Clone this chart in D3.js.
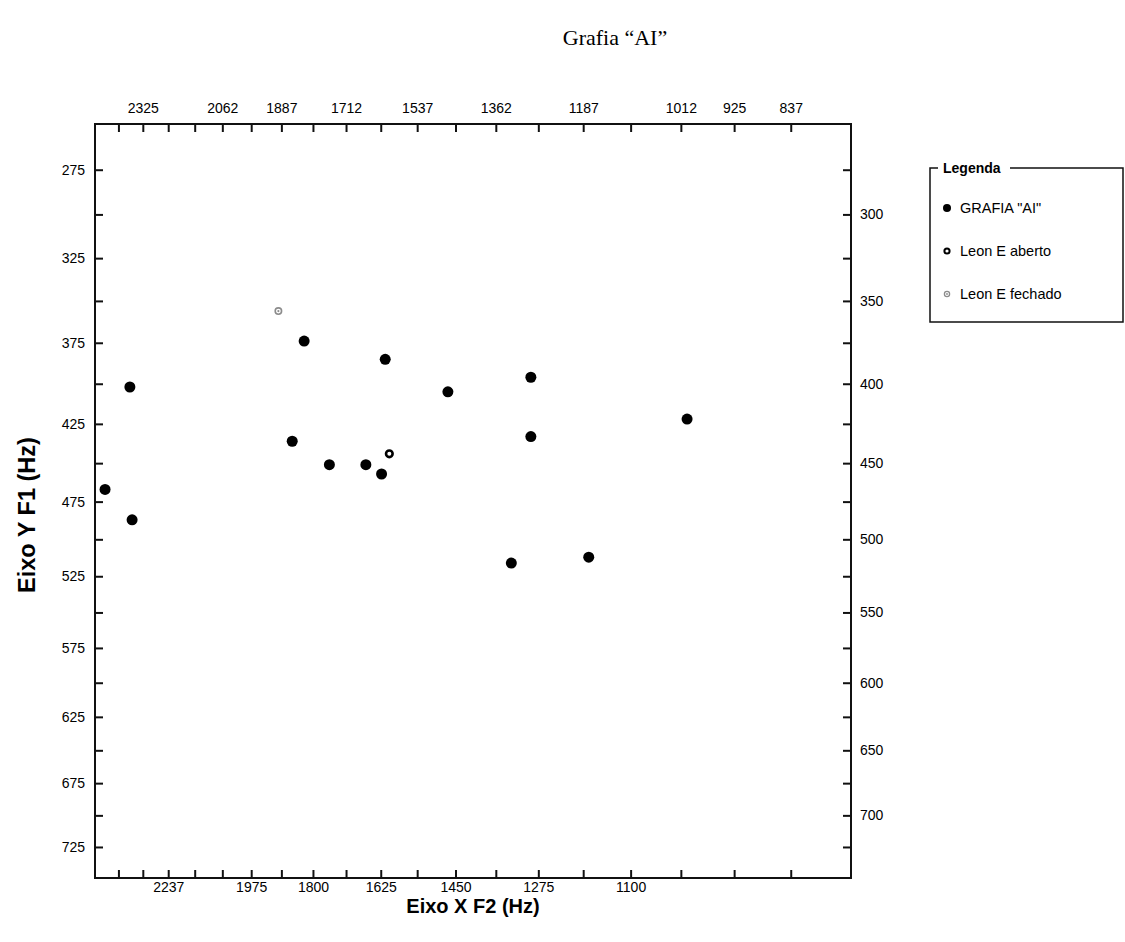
<!DOCTYPE html>
<html>
<head>
<meta charset="utf-8">
<script src="https://cdn.jsdelivr.net/npm/d3@7"></script>
<style>
  body { margin: 0; background: #fff; }
  svg { display: block; }
  .tick text { font-family: "Liberation Sans", Arial, sans-serif; font-size: 14px; fill: #000; }
  .tick line { stroke: #111; stroke-width: 2; }
</style>
</head>
<body>
<svg id="chart" width="1125" height="942"></svg>
<script>
// F2 / F1 values (Hz)
const grafiaF2 = [1824, 1614, 2371, 1857, 1756, 1662, 1623, 2462, 2363, 1467, 1290, 1002, 1290, 1330, 1177];
const grafiaF1 = [374, 385, 402, 436, 451, 451, 457, 467, 487, 405, 396, 422, 433, 516, 512];
const abertoF2 = [1604];
const abertoF1 = [444];
const fechadoF2 = [1896];
const fechadoF1 = [356];

// axis domains and ticks (Hz)
const xDomain = [2500, 750];
const yDomain = [250, 750];
const xTicks = [2412.5, 2325, 2237.5, 2150, 2062.5, 1975, 1887.5, 1800, 1712.5, 1625,
  1537.5, 1450, 1362.5, 1275, 1187.5, 1100, 1012.5, 925, 837.5];
const xBottomLabels = [2237.5, 1975, 1800, 1625, 1450, 1275, 1100];
const xTopLabels = [2325, 2062.5, 1887.5, 1712.5, 1537.5, 1362.5, 1187.5, 1012.5, 925, 837.5];
const yTicks = [275, 300, 325, 350, 375, 400, 425, 450, 475, 500, 525, 550, 575, 600, 625, 650, 675, 700, 725];
const yLeftLabels = [275, 325, 375, 425, 475, 525, 575, 625, 675, 725];
const yRightLabels = [300, 350, 400, 450, 500, 550, 600, 650, 700];

const legendLabels = ['GRAFIA "AI"', 'Leon E aberto', 'Leon E fechado'];

// Traunmüller bark
const bark = f => 26.81 * f / (1960 + f) - 0.53;

const pLeft = 95, pRight = 851, pTop = 124, pBottom = 878;

const xb = d3.scaleLinear().domain(xDomain.map(bark)).range([pLeft, pRight]);
const yb = d3.scaleLinear().domain(yDomain.map(bark)).range([pTop, pBottom]);
const x = f => xb(bark(f));
const y = f => yb(bark(f));

const svg = d3.select('#chart');

// title
svg.append('text')
  .attr('x', 615).attr('y', 45)
  .attr('text-anchor', 'middle')
  .style('font-family', '"Liberation Serif", "Times New Roman", serif')
  .style('font-size', '22px')
  .text('Grafia \u201CAI\u201D');

const fmt = list => d => {
  const hz = xTicks.find(t => Math.abs(bark(t) - d) < 1e-9);
  return list.includes(hz) ? String(Math.floor(hz)) : '';
};
const fmtY = list => d => {
  const hz = yTicks.find(t => Math.abs(bark(t) - d) < 1e-9);
  return list.includes(hz) ? String(hz) : '';
};

svg.append('g')
  .attr('transform', `translate(0,${pBottom})`)
  .call(d3.axisBottom(xb).tickValues(xTicks.map(bark)).tickSize(-8).tickPadding(4)
    .tickFormat(fmt(xBottomLabels)))
  .call(g => g.select('.domain').remove());

svg.append('g')
  .attr('transform', `translate(0,${pTop})`)
  .call(d3.axisTop(xb).tickValues(xTicks.map(bark)).tickSize(-8).tickPadding(11)
    .tickFormat(fmt(xTopLabels)))
  .call(g => g.select('.domain').remove());

svg.append('g')
  .attr('transform', `translate(${pLeft},0)`)
  .call(d3.axisLeft(yb).tickValues(yTicks.map(bark)).tickSize(-8).tickPadding(10)
    .tickFormat(fmtY(yLeftLabels)))
  .call(g => g.select('.domain').remove());

svg.append('g')
  .attr('transform', `translate(${pRight},0)`)
  .call(d3.axisRight(yb).tickValues(yTicks.map(bark)).tickSize(-8).tickPadding(9)
    .tickFormat(fmtY(yRightLabels)))
  .call(g => g.select('.domain').remove());

// frame
svg.append('rect')
  .attr('x', pLeft).attr('y', pTop)
  .attr('width', pRight - pLeft).attr('height', pBottom - pTop)
  .attr('fill', 'none').attr('stroke', '#111').attr('stroke-width', 2);

// axis titles
svg.append('text')
  .attr('x', 473).attr('y', 913)
  .attr('text-anchor', 'middle')
  .style('font-family', '"Liberation Sans", Arial, sans-serif')
  .style('font-size', '20px').style('font-weight', 'bold')
  .text('Eixo X F2 (Hz)');

svg.append('text')
  .attr('transform', 'translate(35,515) rotate(-90)')
  .attr('text-anchor', 'middle')
  .style('font-family', '"Liberation Sans", Arial, sans-serif')
  .style('font-size', '23.5px').style('font-weight', 'bold')
  .text('Eixo Y F1 (Hz)');

// points
const plot = svg.append('g');

plot.selectAll('circle.grafia')
  .data(d3.zip(grafiaF2, grafiaF1))
  .join('circle')
  .attr('class', 'grafia')
  .attr('cx', d => x(d[0])).attr('cy', d => y(d[1]))
  .attr('r', 5.5).attr('fill', '#000');

plot.selectAll('circle.aberto')
  .data(d3.zip(abertoF2, abertoF1))
  .join('circle')
  .attr('class', 'aberto')
  .attr('cx', d => x(d[0])).attr('cy', d => y(d[1]))
  .attr('r', 3.3).attr('fill', '#fff').attr('stroke', '#000').attr('stroke-width', 2.6);

const fechado = plot.selectAll('g.fechado')
  .data(d3.zip(fechadoF2, fechadoF1))
  .join('g')
  .attr('class', 'fechado')
  .attr('transform', d => `translate(${x(d[0])},${y(d[1])})`);
fechado.append('circle').attr('r', 3.2).attr('fill', '#fff').attr('stroke', '#8c8c8c').attr('stroke-width', 1.6);
fechado.append('circle').attr('r', 1.1).attr('fill', '#8c8c8c');

// legend
const lg = svg.append('g');
lg.append('path')
  .attr('d', 'M938,168 H930 V322 H1123 V168 H1010')
  .attr('fill', 'none').attr('stroke', '#111').attr('stroke-width', 1.5);
lg.append('text')
  .attr('x', 943).attr('y', 173)
  .style('font-family', '"Liberation Sans", Arial, sans-serif')
  .style('font-size', '14px').style('font-weight', 'bold')
  .text('Legenda');

const legendY = [208, 251, 294];
legendLabels.forEach((lab, i) => {
  const cy = legendY[i];
  if (i === 0) {
    lg.append('circle').attr('cx', 947).attr('cy', cy).attr('r', 4).attr('fill', '#000');
  } else if (i === 1) {
    lg.append('circle').attr('cx', 947).attr('cy', cy).attr('r', 2.6)
      .attr('fill', '#fff').attr('stroke', '#000').attr('stroke-width', 2);
  } else {
    lg.append('circle').attr('cx', 947).attr('cy', cy).attr('r', 2.6)
      .attr('fill', '#fff').attr('stroke', '#8c8c8c').attr('stroke-width', 1.3);
    lg.append('circle').attr('cx', 947).attr('cy', cy).attr('r', 0.9).attr('fill', '#8c8c8c');
  }
  lg.append('text')
    .attr('x', 960).attr('y', cy + 5)
    .style('font-family', '"Liberation Sans", Arial, sans-serif')
    .style('font-size', '14.5px')
    .text(lab);
});
</script>
</body>
</html>
